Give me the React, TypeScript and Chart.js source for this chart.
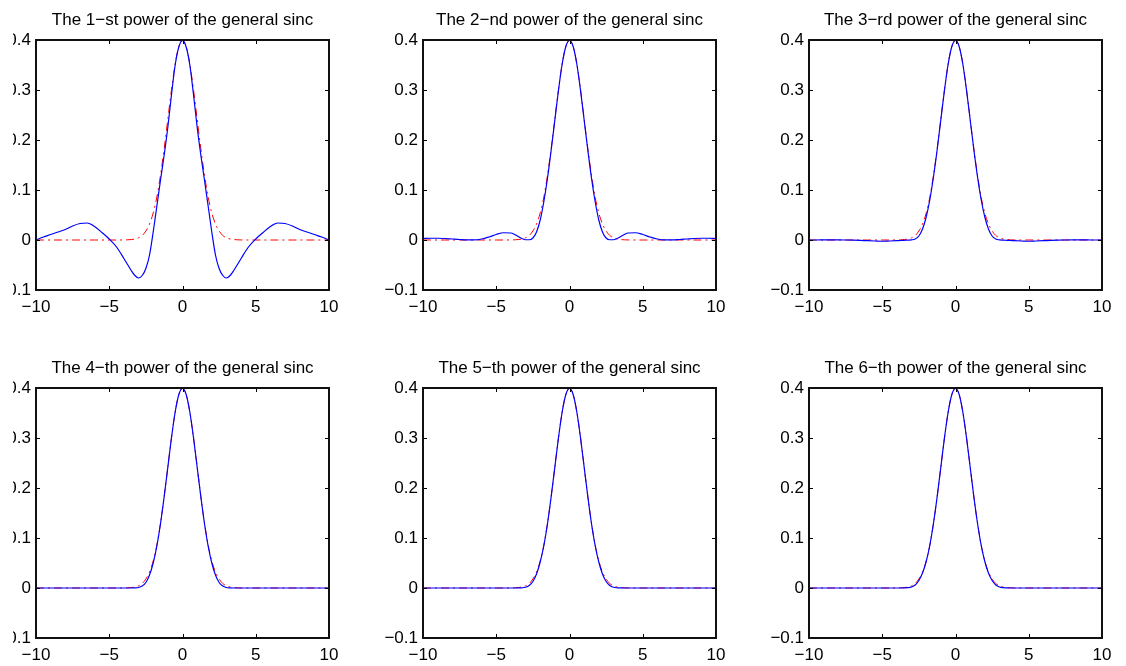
import React, { useEffect, useRef } from "react";
import { Chart, registerables } from "chart.js";

Chart.register(...registerables);

const X = [
  -10, -9.5, -9, -8.5, -8, -7.5, -7, -6.5, -6, -5.5, -5, -4.5,
  -4, -3.75, -3.5, -3.25, -3, -2.75, -2.5, -2.25, -2, -1.75, -1.5, -1.25, -1, -0.75, -0.5, -0.25,
  0, 0.25, 0.5, 0.75, 1, 1.25, 1.5, 1.75, 2, 2.25, 2.5, 2.75, 3, 3.25, 3.5, 3.75, 4,
  4.5, 5, 5.5, 6, 6.5, 7, 7.5, 8, 8.5, 9, 9.5, 10,
];

const GAUSS = [
  0, 0, 0, 0, 0, 0, 0, 0, 0, 0, 0, 0,
  0.0001, 0.0004, 0.0009, 0.002, 0.0044, 0.009, 0.018, 0.032, 0.054, 0.086, 0.13, 0.183, 0.242, 0.301, 0.352, 0.387,
  0.399, 0.387, 0.352, 0.301, 0.242, 0.183, 0.13, 0.086, 0.054, 0.032, 0.018, 0.009, 0.0044, 0.002, 0.0009, 0.0004, 0.0001,
  0, 0, 0, 0, 0, 0, 0, 0, 0, 0, 0, 0,
];

const SINC1 = [
  0, 0.006, 0.011, 0.016, 0.021, 0.028, 0.033, 0.034, 0.027, 0.015, 0.002, -0.014,
  -0.037, -0.049, -0.061, -0.071, -0.076, -0.071, -0.057, -0.03, 0.016, 0.068, 0.12, 0.17, 0.226, 0.291, 0.35, 0.386,
  0.399, 0.386, 0.35, 0.291, 0.226, 0.17, 0.12, 0.068, 0.016, -0.03, -0.057, -0.071, -0.076, -0.071, -0.061, -0.049, -0.037,
  -0.014, 0.002, 0.015, 0.027, 0.034, 0.033, 0.028, 0.021, 0.016, 0.011, 0.006, 0,
];

const SINC2 = [
  0.003, 0.0035, 0.0035, 0.003, 0.002, 0.001, 0.0003, 0.0003, 0.002, 0.006, 0.011, 0.0145,
  0.014, 0.011, 0.007, 0.003, 0.0005, 0.0005, 0.004, 0.016, 0.04, 0.077, 0.124, 0.18, 0.24, 0.3, 0.352, 0.387,
  0.399, 0.387, 0.352, 0.3, 0.24, 0.18, 0.124, 0.077, 0.04, 0.016, 0.004, 0.0005, 0.0005, 0.003, 0.007, 0.011, 0.014,
  0.0145, 0.011, 0.006, 0.002, 0.0003, 0.0003, 0.001, 0.002, 0.003, 0.0035, 0.0035, 0.003,
];

const SINC3 = [
  0, 0, 0.0001, 0.0001, 0.0001, 0, -0.0002, -0.0007, -0.0014, -0.002, -0.0025, -0.002,
  -0.0014, -0.001, -0.0006, -0.0002, 0.0003, 0.002, 0.008, 0.022, 0.046, 0.081, 0.127, 0.181, 0.241, 0.3, 0.352, 0.387,
  0.399, 0.387, 0.352, 0.3, 0.241, 0.181, 0.127, 0.081, 0.046, 0.022, 0.008, 0.002, 0.0003, -0.0002, -0.0006, -0.001, -0.0014,
  -0.002, -0.0025, -0.002, -0.0014, -0.0007, -0.0002, 0, 0.0001, 0.0001, 0.0001, 0, 0,
];

const SINC4 = [
  0, 0, 0, 0, 0, 0, 0, 0, 0, 0, 0, 0,
  0, 0, 0, 0.0002, 0.001, 0.004, 0.011, 0.026, 0.05, 0.084, 0.129, 0.183, 0.242, 0.301, 0.352, 0.387,
  0.399, 0.387, 0.352, 0.301, 0.242, 0.183, 0.129, 0.084, 0.05, 0.026, 0.011, 0.004, 0.001, 0.0002, 0, 0, 0,
  0, 0, 0, 0, 0, 0, 0, 0, 0, 0, 0, 0,
];

const SINC5 = [
  0, 0, 0, 0, 0, 0, 0, 0, 0, 0, 0, 0,
  0, 0, 0.0001, 0.0004, 0.0015, 0.005, 0.013, 0.028, 0.052, 0.085, 0.129, 0.183, 0.242, 0.301, 0.352, 0.387,
  0.399, 0.387, 0.352, 0.301, 0.242, 0.183, 0.129, 0.085, 0.052, 0.028, 0.013, 0.005, 0.0015, 0.0004, 0.0001, 0, 0,
  0, 0, 0, 0, 0, 0, 0, 0, 0, 0, 0, 0,
];

const SINC6 = [
  0, 0, 0, 0, 0, 0, 0, 0, 0, 0, 0, 0,
  0, 0, 0.0002, 0.0006, 0.002, 0.006, 0.015, 0.03, 0.053, 0.086, 0.13, 0.183, 0.242, 0.301, 0.352, 0.387,
  0.399, 0.387, 0.352, 0.301, 0.242, 0.183, 0.13, 0.086, 0.053, 0.03, 0.015, 0.006, 0.002, 0.0006, 0.0002, 0, 0,
  0, 0, 0, 0, 0, 0, 0, 0, 0, 0, 0, 0,
];

const SERIES = [SINC1, SINC2, SINC3, SINC4, SINC5, SINC6];

const TITLES = [
  "The 1\u2212st power of the general sinc",
  "The 2\u2212nd power of the general sinc",
  "The 3\u2212rd power of the general sinc",
  "The 4\u2212th power of the general sinc",
  "The 5\u2212th power of the general sinc",
  "The 6\u2212th power of the general sinc",
];

const X_TICKS = [-10, -5, 0, 5, 10];
const Y_TICKS = [-0.1, 0, 0.1, 0.2, 0.3, 0.4];

const FONT = "'Liberation Sans', Arial, Helvetica, sans-serif";

const CLIP_LEFT = 13;
const COL_LEFT = [36, 423, 809];
const ROW_TOP = [40, 388];
const PLOT_W = 293;
const PLOT_H = 250;
const Y_AXIS_W = 50;
const X_AXIS_H = 32;
const TOP_H = 40;
const RIGHT_PAD = 20;

const fmt = (v: number) => {
  const r = Math.round(v * 10) / 10;
  return String(r).replace("-", "\u2212");
};

const boxPlugin = {
  id: "matlabBox",
  afterDraw(chart: any, _args: any, opts: any) {
    const { ctx, chartArea: a, scales } = chart;
    const L = 4;
    ctx.save();
    ctx.strokeStyle = "#000";
    ctx.lineWidth = 1;
    ctx.beginPath();
    scales.x.ticks.forEach((t: any) => {
      const px = Math.round(scales.x.getPixelForValue(t.value)) + 0.5;
      ctx.moveTo(px, a.bottom);
      ctx.lineTo(px, a.bottom - L);
      ctx.moveTo(px, a.top);
      ctx.lineTo(px, a.top + L);
    });
    scales.y.ticks.forEach((t: any) => {
      const py = Math.round(scales.y.getPixelForValue(t.value)) + 0.5;
      ctx.moveTo(a.left, py);
      ctx.lineTo(a.left + L, py);
      ctx.moveTo(a.right, py);
      ctx.lineTo(a.right - L, py);
    });
    ctx.stroke();
    ctx.lineWidth = 2;
    ctx.strokeStyle = "#111";
    ctx.strokeRect(a.left, a.top, a.right - a.left, a.bottom - a.top);
    if (opts && opts.text) {
      ctx.fillStyle = "#000";
      ctx.font = `17px ${FONT}`;
      ctx.textAlign = "center";
      ctx.textBaseline = "alphabetic";
      ctx.fillText(opts.text, (a.left + a.right) / 2, a.top - 15);
    }
    ctx.restore();
  },
};

function SubPlot({ idx }: { idx: number }) {
  const ref = useRef<HTMLCanvasElement | null>(null);
  useEffect(() => {
    if (!ref.current) return;
    const sinc = SERIES[idx];
    const chart = new Chart(ref.current, {
      type: "line",
      data: {
        datasets: [
          {
            data: X.map((x, i) => ({ x, y: sinc[i] })),
            borderColor: "#0000ff",
            borderWidth: 1.2,
            pointRadius: 0,
            cubicInterpolationMode: "monotone",
            fill: false,
            order: 0,
          },
          {
            data: X.map((x, i) => ({ x, y: GAUSS[i] })),
            borderColor: "#ff0000",
            borderWidth: 1,
            borderDash: [8, 4, 2, 4],
            pointRadius: 0,
            cubicInterpolationMode: "monotone",
            fill: false,
            order: 1,
          },
        ],
      },
      options: {
        responsive: false,
        animation: false,
        events: [],
        layout: { padding: { left: 0, right: RIGHT_PAD, top: TOP_H, bottom: 0 } },
        plugins: {
          legend: { display: false },
          tooltip: { enabled: false },
          title: { display: false },
          matlabBox: { text: TITLES[idx] },
        },
        scales: {
          x: {
            type: "linear",
            min: -10,
            max: 10,
            afterBuildTicks: (s: any) => {
              s.ticks = X_TICKS.map((v) => ({ value: v }));
            },
            afterFit: (s: any) => {
              s.height = X_AXIS_H;
            },
            grid: { display: false, drawTicks: false },
            border: { display: false },
            ticks: {
              color: "#000",
              padding: 7,
              maxRotation: 0,
              autoSkip: false,
              font: { family: FONT, size: 17 },
              callback: (v: any) => fmt(Number(v)),
            },
          },
          y: {
            type: "linear",
            min: -0.1,
            max: 0.4,
            afterBuildTicks: (s: any) => {
              s.ticks = Y_TICKS.map((v) => ({ value: v }));
            },
            afterFit: (s: any) => {
              s.width = Y_AXIS_W;
            },
            grid: { display: false, drawTicks: false },
            border: { display: false },
            ticks: {
              color: "#000",
              padding: 5,
              autoSkip: false,
              font: { family: FONT, size: 17 },
              callback: (v: any) => fmt(Number(v)),
            },
          },
        },
      },
      plugins: [boxPlugin],
    } as any);
    return () => chart.destroy();
  }, [idx]);

  const col = idx % 3;
  const row = Math.floor(idx / 3);
  const w = Y_AXIS_W + PLOT_W + RIGHT_PAD;
  const h = TOP_H + PLOT_H + X_AXIS_H;
  return (
    <canvas
      ref={ref}
      width={w}
      height={h}
      style={{
        position: "absolute",
        left: COL_LEFT[col] - Y_AXIS_W - CLIP_LEFT,
        top: ROW_TOP[row] - TOP_H,
        width: w,
        height: h,
      }}
    />
  );
}

export default function App() {
  return (
    <div
      style={{
        position: "absolute",
        left: 0,
        top: 0,
        width: 1126,
        height: 666,
        overflow: "hidden",
        background: "#fff",
      }}
    >
      <div
        style={{
          position: "absolute",
          left: CLIP_LEFT,
          top: 0,
          width: 1126 - CLIP_LEFT,
          height: 666,
          overflow: "hidden",
        }}
      >
        {[0, 1, 2, 3, 4, 5].map((i) => (
          <SubPlot key={i} idx={i} />
        ))}
      </div>
    </div>
  );
}
